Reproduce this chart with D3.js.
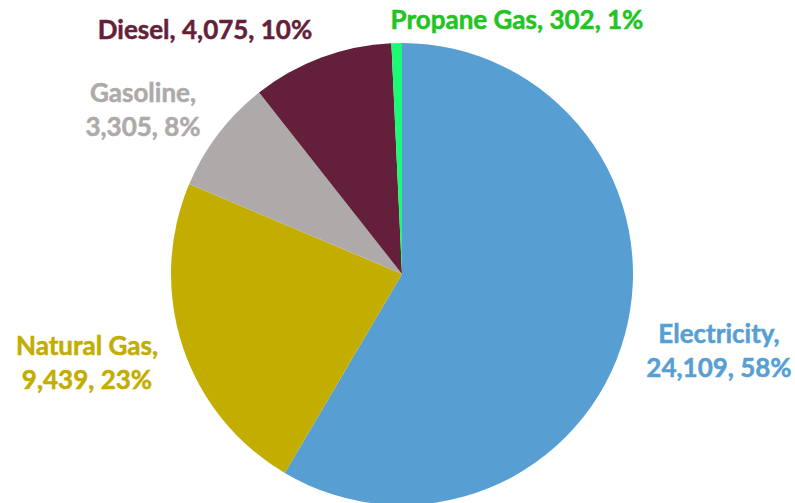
<!DOCTYPE html>
<html>
<head>
<meta charset="utf-8">
<script src="https://cdn.jsdelivr.net/npm/d3@7"></script>
<style>
    body { margin: 0; background: #fff; }
    .slice-label { font-family: Lato, "Open Sans", sans-serif; font-weight: bold; font-size: 26px; stroke-width: 0.5px; }
</style>
</head>
<body>
<div id="chart"></div>
<script>
const categories = ["Electricity", "Natural Gas", "Gasoline", "Diesel", "Propane Gas"];
const values = [24109, 9439, 3305, 4075, 302];
const percents = ["58%", "23%", "8%", "10%", "1%"];
const sliceColors = ["#579fd3", "#c2ad00", "#aeaaaa", "#641f3a", "#1bfb74"];
const labelColors = ["#579fd3", "#c2ad00", "#aeaaaa", "#641f3a", "#22c422"];

const ChartConfig = {
    width: 795,
    height: 503,
    cx: 402,
    cy: 274,
    radius: 231
};

// label anchor (centre x, first baseline y) and how the text is broken into lines
const labelLayout = [
    {x: 719, y: 343, lines: 2},
    {x: 87, y: 355, lines: 2},
    {x: 143, y: 102, lines: 2},
    {x: 205, y: 39, lines: 1},
    {x: 517, y: 29, lines: 1}
];
const lineHeight = 34;

const data = categories.map((c, i) => ({name: c, value: values[i], pct: percents[i], i: i}));

const svg = d3.select("#chart")
    .append("svg")
    .attr("width", ChartConfig.width)
    .attr("height", ChartConfig.height);

const pie = d3.pie().sort(null).value(d => d.value);
const arc = d3.arc().innerRadius(0).outerRadius(ChartConfig.radius);

const g = svg.append("g")
    .attr("transform", `translate(${ChartConfig.cx},${ChartConfig.cy})`);

g.selectAll("path.slice")
    .data(pie(data))
    .enter().append("path")
    .attr("class", "slice")
    .attr("d", arc)
    .style("fill", d => sliceColors[d.data.i]);

const fmt = d3.format(",");

const labels = svg.append("g").attr("id", "labels")
    .selectAll("text.slice-label")
    .data(data)
    .enter().append("text")
    .attr("class", "slice-label")
    .attr("text-anchor", "middle")
    .style("fill", d => labelColors[d.i])
    .style("stroke", d => labelColors[d.i]);

labels.each(function (d) {
    let lay = labelLayout[d.i];
    let text = d3.select(this);
    let rest = `${fmt(d.value)}, ${d.pct}`;
    if (lay.lines === 1) {
        text.append("tspan").attr("x", lay.x).attr("y", lay.y).text(`${d.name}, ${rest}`);
    } else {
        text.append("tspan").attr("x", lay.x).attr("y", lay.y).text(`${d.name},`);
        text.append("tspan").attr("x", lay.x).attr("y", lay.y + lineHeight).text(rest);
    }
});
</script>
</body>
</html>
